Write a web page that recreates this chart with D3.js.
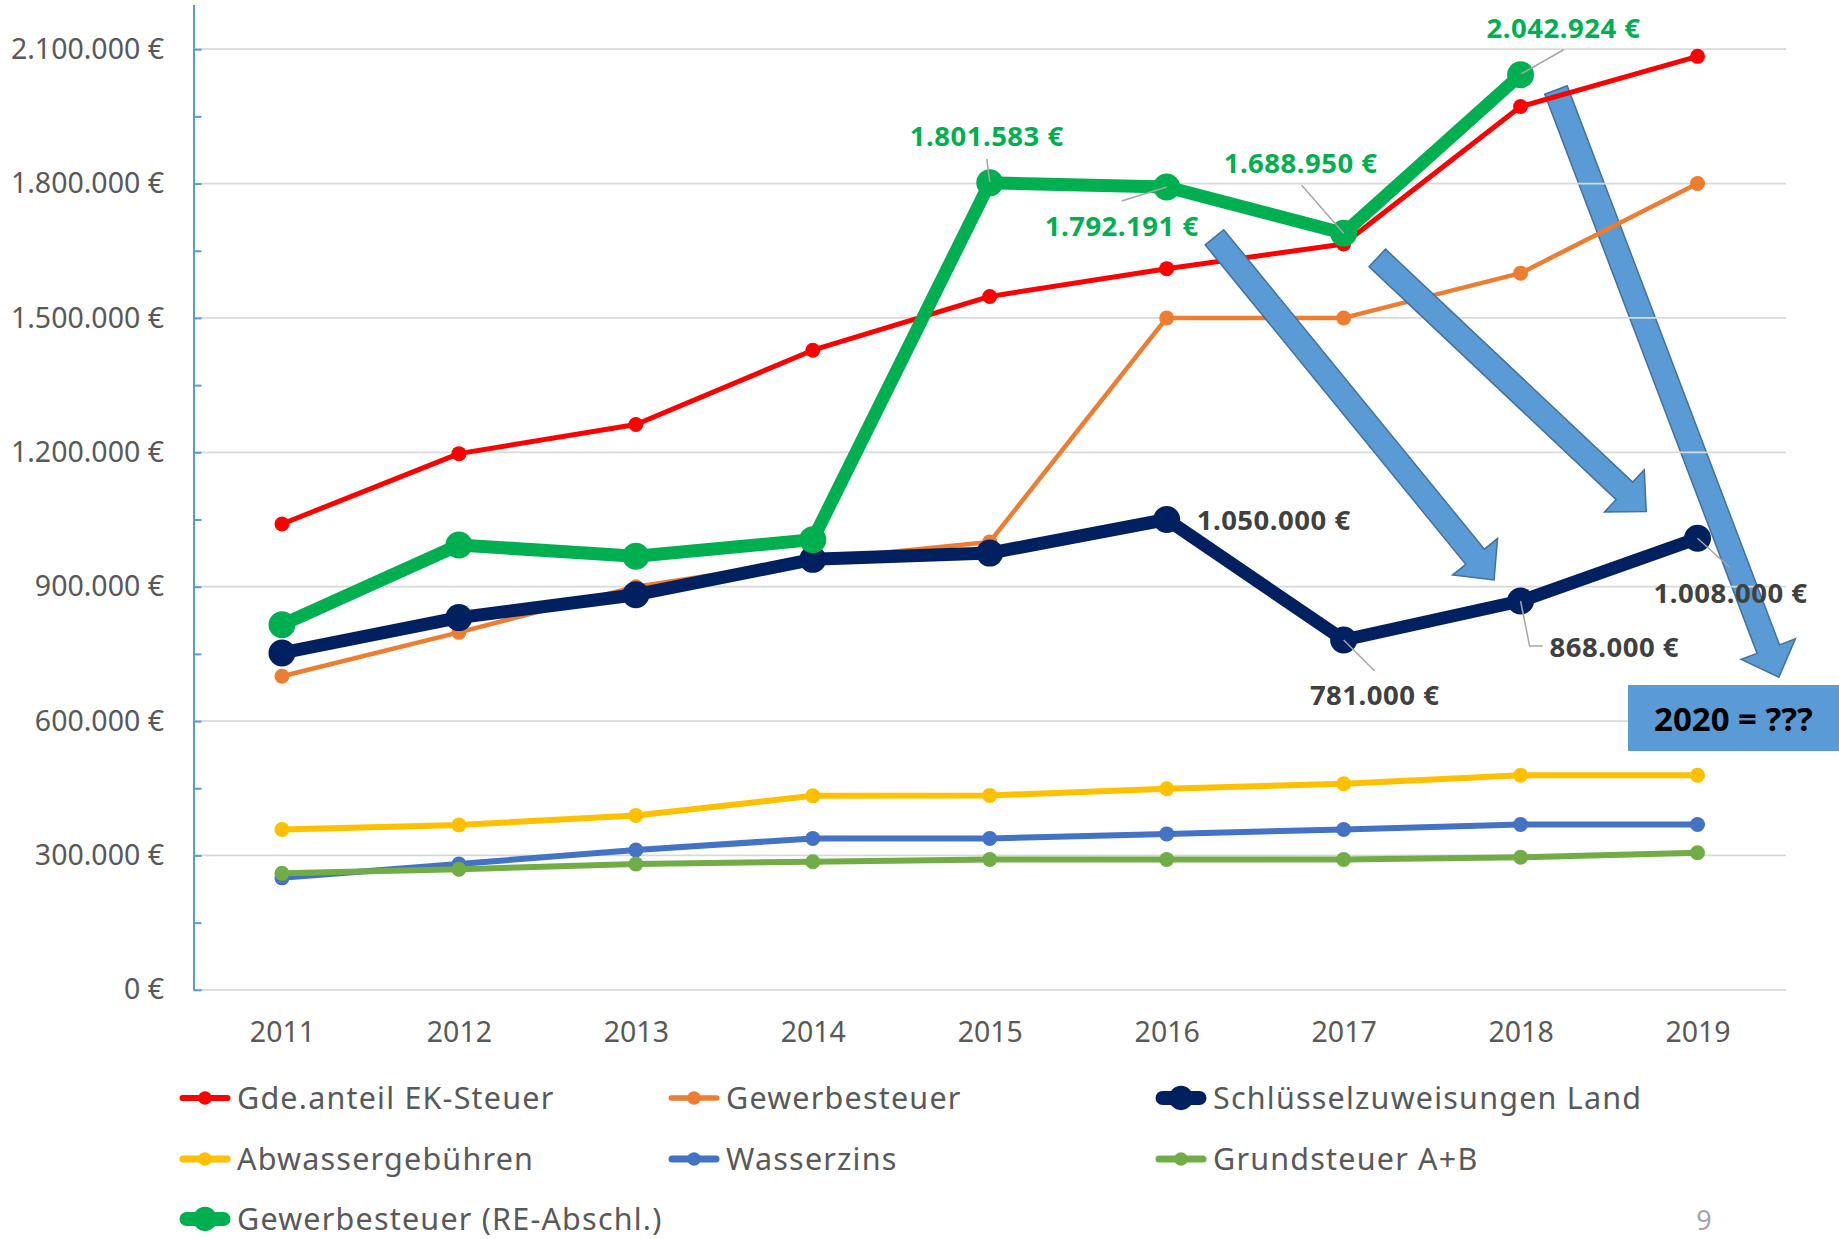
<!DOCTYPE html>
<html>
<head>
<meta charset="utf-8">
<script src="https://cdn.jsdelivr.net/npm/d3@7"></script>
<style>
  body { margin: 0; background: #fff; }
  svg { display: block; font-family: 'Noto Sans', sans-serif; }
</style>
</head>
<body>
<svg id="chart" width="1839" height="1239"></svg>
<script>
// data
const years = ['2011', '2012', '2013', '2014', '2015', '2016', '2017', '2018', '2019'];
const seriesNames = [
  'Gde.anteil EK-Steuer',
  'Gewerbesteuer',
  'Schlüsselzuweisungen Land',
  'Abwassergebühren',
  'Wasserzins',
  'Grundsteuer A+B',
  'Gewerbesteuer (RE-Abschl.)',
];
const ekSteuer = [1040000, 1197000, 1262000, 1428000, 1548000, 1610000, 1665000, 1972000, 2084000];
const gewerbesteuer = [700000, 798000, 900000, 960000, 1000000, 1500000, 1500000, 1600000, 1800000];
const schluessel = [752000, 831000, 882000, 961000, 975000, 1050000, 781000, 868000, 1008000];
const abwasser = [358000, 368000, 389000, 433000, 434000, 449000, 460000, 479000, 479000];
const wasserzins = [250000, 281000, 312000, 338000, 338000, 348000, 358000, 369000, 369000];
const grundsteuer = [260000, 269000, 281000, 286000, 291000, 291000, 291000, 296000, 306000];
const gewerbeRE = [815000, 993000, 968000, 1005000, 1801583, 1792191, 1688950, 2042924, null];
const yTicks = [0, 300000, 600000, 900000, 1200000, 1500000, 1800000, 2100000];
const yMinor = [150000, 450000, 750000, 1050000, 1350000, 1650000, 1950000];
const calloutText = '2020 = ???';
const pageNumber = '9';

const fmt = d3
  .formatLocale({ decimal: ',', thousands: '.', grouping: [3], currency: ['', ' €'] })
  .format('$,.0f');

const svg = d3.select('#chart');
const plotLeft = 193.5, plotRight = 1786, plotTop = 4.4, plotBottom = 989.8;

const x = d3.scalePoint().domain(years).range([plotLeft, plotRight]).padding(0.5);
const y = d3.scaleLinear().domain([0, 2200000]).range([plotBottom, plotTop]);
const xAt = (i) => x(years[0]) + i * x.step();

const series = [
  { name: seriesNames[0], values: ekSteuer, color: '#FF0000', width: 5, r: 7.5 },
  { name: seriesNames[1], values: gewerbesteuer, color: '#ED7D31', width: 4.5, r: 7.5 },
  { name: seriesNames[2], values: schluessel, color: '#002060', width: 13, r: 13.5 },
  { name: seriesNames[3], values: abwasser, color: '#FFC000', width: 6, r: 7.5 },
  { name: seriesNames[4], values: wasserzins, color: '#4472C4', width: 6, r: 7.5 },
  { name: seriesNames[5], values: grundsteuer, color: '#70AD47', width: 6, r: 7.5 },
  { name: seriesNames[6], values: gewerbeRE, color: '#00B050', width: 13, r: 13.5 },
];

// block arrows, given as (year index, value) so they follow the scales
const arrows = [
  { from: [5.27, 1680000], to: [6.85, 915000], front: true },
  { from: [6.19, 1634000], to: [7.71, 1068000], front: true },
  { from: [7.2, 2009000], to: [8.46, 698000], front: false },
];

function drawArrow(g, a) {
  const x0 = xAt(a.from[0]), y0 = y(a.from[1]);
  const x1 = xAt(a.to[0]), y1 = y(a.to[1]);
  const len = Math.hypot(x1 - x0, y1 - y0);
  const ux = (x1 - x0) / len, uy = (y1 - y0) / len;
  const nx = -uy, ny = ux;
  const sw = 12, hw = 29, hl = 30;
  const bx = x1 - ux * hl, by = y1 - uy * hl;
  const pts = [
    [x0 + nx * sw, y0 + ny * sw],
    [bx + nx * sw, by + ny * sw],
    [bx + nx * hw, by + ny * hw],
    [x1, y1],
    [bx - nx * hw, by - ny * hw],
    [bx - nx * sw, by - ny * sw],
    [x0 - nx * sw, y0 - ny * sw],
  ];
  g.append('polygon')
    .attr('points', pts.map((p) => p.join(',')).join(' '))
    .attr('fill', '#5B9BD5')
    .attr('stroke', '#41719C')
    .attr('stroke-width', 1.5)
    .attr('stroke-linejoin', 'miter');
}

//Arrow behind the plot
const backArrows = svg.append('g');
arrows.filter((a) => !a.front).forEach((a) => drawArrow(backArrows, a));

//Gridlines
svg.append('g')
  .selectAll('line')
  .data(yTicks.filter((d) => d > 0))
  .join('line')
  .attr('x1', plotLeft)
  .attr('x2', plotRight)
  .attr('y1', (d) => y(d))
  .attr('y2', (d) => y(d))
  .attr('stroke', '#D9D9D9')
  .attr('stroke-width', 1.8);

//X axis
const xAxis = svg.append('g')
  .attr('transform', `translate(0,${plotBottom})`)
  .call(d3.axisBottom(x).tickSize(0).tickSizeOuter(0));
xAxis.select('.domain').attr('stroke', '#D9D9D9').attr('stroke-width', 1.8)
  .attr('d', `M${plotLeft},0H${plotRight}`);
xAxis.selectAll('text')
  .attr('y', 52)
  .attr('dy', null)
  .attr('fill', '#595959')
  .style('font-size', '28.5px')
  .style('font-family', 'Noto Sans');

//Y axis with major and minor ticks pointing inwards
const yAxis = svg.append('g')
  .attr('transform', `translate(${plotLeft},0)`)
  .call(d3.axisLeft(y).tickValues(yTicks).tickSize(-8).tickSizeOuter(0).tickPadding(29.5)
    .tickFormat((d) => fmt(d)));
yAxis.select('.domain').attr('stroke', '#5B9BD5').attr('stroke-width', 2);
yAxis.selectAll('.tick line').attr('stroke', '#5B9BD5').attr('stroke-width', 2);
yAxis.selectAll('text')
  .attr('fill', '#595959')
  .style('font-size', '28.5px')
  .style('font-family', 'Noto Sans');
svg.append('g')
  .attr('transform', `translate(${plotLeft},0)`)
  .call(d3.axisLeft(y).tickValues(yMinor).tickSize(-8).tickFormat(''))
  .call((g) => g.select('.domain').remove())
  .selectAll('.tick line').attr('stroke', '#5B9BD5').attr('stroke-width', 2);

//Lines and markers
const line = d3.line()
  .defined((d) => d != null)
  .x((d, i) => x(years[i]))
  .y((d) => y(d));

series.forEach((s) => {
  const g = svg.append('g');
  g.append('path')
    .attr('d', line(s.values))
    .attr('fill', 'none')
    .attr('stroke', s.color)
    .attr('stroke-width', s.width)
    .attr('stroke-linejoin', 'round');
  g.selectAll('circle')
    .data(s.values.map((v, i) => ({ v, year: years[i] })).filter((d) => d.v != null))
    .join('circle')
    .attr('cx', (d) => x(d.year))
    .attr('cy', (d) => y(d.v))
    .attr('r', s.r)
    .attr('fill', s.color);
});

//Arrows in front
const frontArrows = svg.append('g');
arrows.filter((a) => a.front).forEach((a) => drawArrow(frontArrows, a));

//Data labels with leader lines
const labelSpecs = [
  { values: gewerbeRE, color: '#00B050', i: 4, dx: -3, dy: -37, anchor: 'middle', leader: [[-3, -24], [0, -1]] },
  { values: gewerbeRE, color: '#00B050', i: 5, dx: -45, dy: 49, anchor: 'middle', leader: [[-45, 14], [0, 0]] },
  { values: gewerbeRE, color: '#00B050', i: 6, dx: -43, dy: -60, anchor: 'middle', leader: [[-42, -48], [0, 0]] },
  { values: gewerbeRE, color: '#00B050', i: 7, dx: 43, dy: -37, anchor: 'middle', leader: [[43, -25], [1, -1]] },
  { values: schluessel, color: '#404040', i: 5, dx: 30, dy: 11, anchor: 'start', leader: null },
  { values: schluessel, color: '#404040', i: 6, dx: 31, dy: 65, anchor: 'middle', leader: [[0, 0], [31, 31]] },
  { values: schluessel, color: '#404040', i: 7, dx: 29, dy: 56, anchor: 'start', leader: [[0, 0], [9, 45], [22, 45]] },
  { values: schluessel, color: '#404040', i: 8, dx: 33, dy: 65, anchor: 'middle', leader: [[0, 0], [32, 29]] },
];

const labels = svg.append('g');
labelSpecs.forEach((l) => {
  const px = x(years[l.i]), py = y(l.values[l.i]);
  if (l.leader) {
    labels.append('path')
      .attr('d', d3.line()(l.leader.map((p) => [px + p[0], py + p[1]])))
      .attr('fill', 'none')
      .attr('stroke', '#A6A6A6')
      .attr('stroke-width', 1.5);
  }
  labels.append('text')
    .attr('x', px + l.dx)
    .attr('y', py + l.dy)
    .attr('text-anchor', l.anchor)
    .attr('fill', l.color)
    .style('font-size', '27.5px')
    .style('letter-spacing', '0.5px')
    .style('font-weight', 'bold')
    .text(fmt(l.values[l.i]));
});

//Callout box
svg.append('rect')
  .attr('x', 1628)
  .attr('y', 685)
  .attr('width', 220)
  .attr('height', 66)
  .attr('fill', '#5B9BD5');
svg.append('text')
  .attr('x', 1654)
  .attr('y', 731)
  .attr('fill', '#000')
  .style('font-size', '33px')
  .style('font-weight', 'bold')
  .text(calloutText);

//Legend
const legendCols = [178, 667, 1154];
const legendRows = [1098, 1159, 1219];
const legend = svg.append('g')
  .selectAll('g')
  .data(series)
  .join('g')
  .attr('transform', (d, i) => `translate(${legendCols[i % 3]},${legendRows[Math.floor(i / 3)]})`);
legend.append('line')
  .attr('x1', (d) => 2 + d.width / 2)
  .attr('x2', (d) => 52 - d.width / 2)
  .attr('stroke', (d) => d.color)
  .attr('stroke-width', (d) => d.width + 1)
  .attr('stroke-linecap', 'round');
legend.append('circle')
  .attr('cx', 27)
  .attr('r', (d) => d.r * 0.9)
  .attr('fill', (d) => d.color);
legend.append('text')
  .attr('x', 59)
  .attr('y', 10.5)
  .attr('fill', '#595959')
  .style('font-size', '30.5px')
  .style('letter-spacing', '1.2px')
  .text((d) => d.name);

//Slide number
svg.append('text')
  .attr('x', 1704)
  .attr('y', 1230)
  .attr('text-anchor', 'middle')
  .attr('fill', '#A6A6A6')
  .style('font-size', '27px')
  .text(pageNumber);
</script>
</body>
</html>
